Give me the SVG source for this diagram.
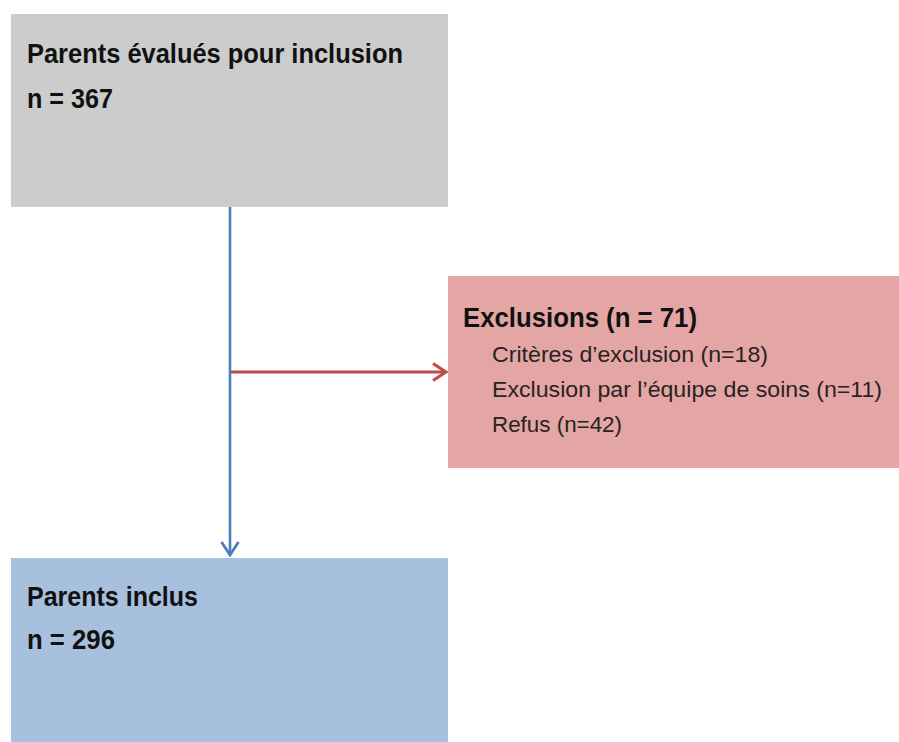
<svg xmlns="http://www.w3.org/2000/svg" width="899" height="742" viewBox="0 0 899 742">
<style>
.t{font-family:"Liberation Sans",Arial,sans-serif;fill:#111}
.b{font-weight:bold;font-size:28px}
.r{font-size:22px;fill:#2a2222}
</style>
<defs>
<marker id="ab" viewBox="0 0 16 20" refX="14" refY="10" markerWidth="16" markerHeight="20" markerUnits="userSpaceOnUse" orient="auto"><path d="M1,1.5 L14,10 L1,18.5" fill="none" stroke="#4a7ebb" stroke-width="2.8"/></marker>
<marker id="ar" viewBox="0 0 16 20" refX="14" refY="10" markerWidth="16" markerHeight="20" markerUnits="userSpaceOnUse" orient="auto"><path d="M1,1.5 L14,10 L1,18.5" fill="none" stroke="#be4b48" stroke-width="3.2"/></marker>
</defs>
<rect width="899" height="742" fill="#fff"/>
<g id="n1"><rect x="11" y="14" width="437" height="193" fill="#cccccc"/>
<text class="t b" x="27" y="63" textLength="376" lengthAdjust="spacingAndGlyphs">Parents évalués pour inclusion</text>
<text class="t b" x="27" y="108" textLength="86" lengthAdjust="spacingAndGlyphs">n = 367</text></g>
<g id="n2"><rect x="448" y="276" width="451" height="192" fill="#e3a6a5"/>
<text class="t b" x="463" y="327" textLength="234" lengthAdjust="spacingAndGlyphs">Exclusions  (n = 71)</text>
<text class="t r" x="492" y="362" textLength="276" lengthAdjust="spacingAndGlyphs">Critères d’exclusion (n=18)</text>
<text class="t r" x="492" y="397" textLength="390" lengthAdjust="spacingAndGlyphs">Exclusion par l’équipe de soins (n=11)</text>
<text class="t r" x="492" y="432" textLength="130" lengthAdjust="spacingAndGlyphs">Refus (n=42)</text></g>
<g id="n3"><rect x="11" y="558" width="437" height="184" fill="#a7c0de"/>
<text class="t b" x="27" y="606" textLength="171" lengthAdjust="spacingAndGlyphs">Parents inclus</text>
<text class="t b" x="27" y="649" textLength="88" lengthAdjust="spacingAndGlyphs">n = 296</text></g>
<g id="edges">
<line x1="230" y1="207" x2="230" y2="555" stroke="#4a7ebb" stroke-width="2.6" marker-end="url(#ab)"/>
<line x1="231" y1="372" x2="446" y2="372" stroke="#be4b48" stroke-width="3.2" marker-end="url(#ar)"/>
</g>
</svg>
